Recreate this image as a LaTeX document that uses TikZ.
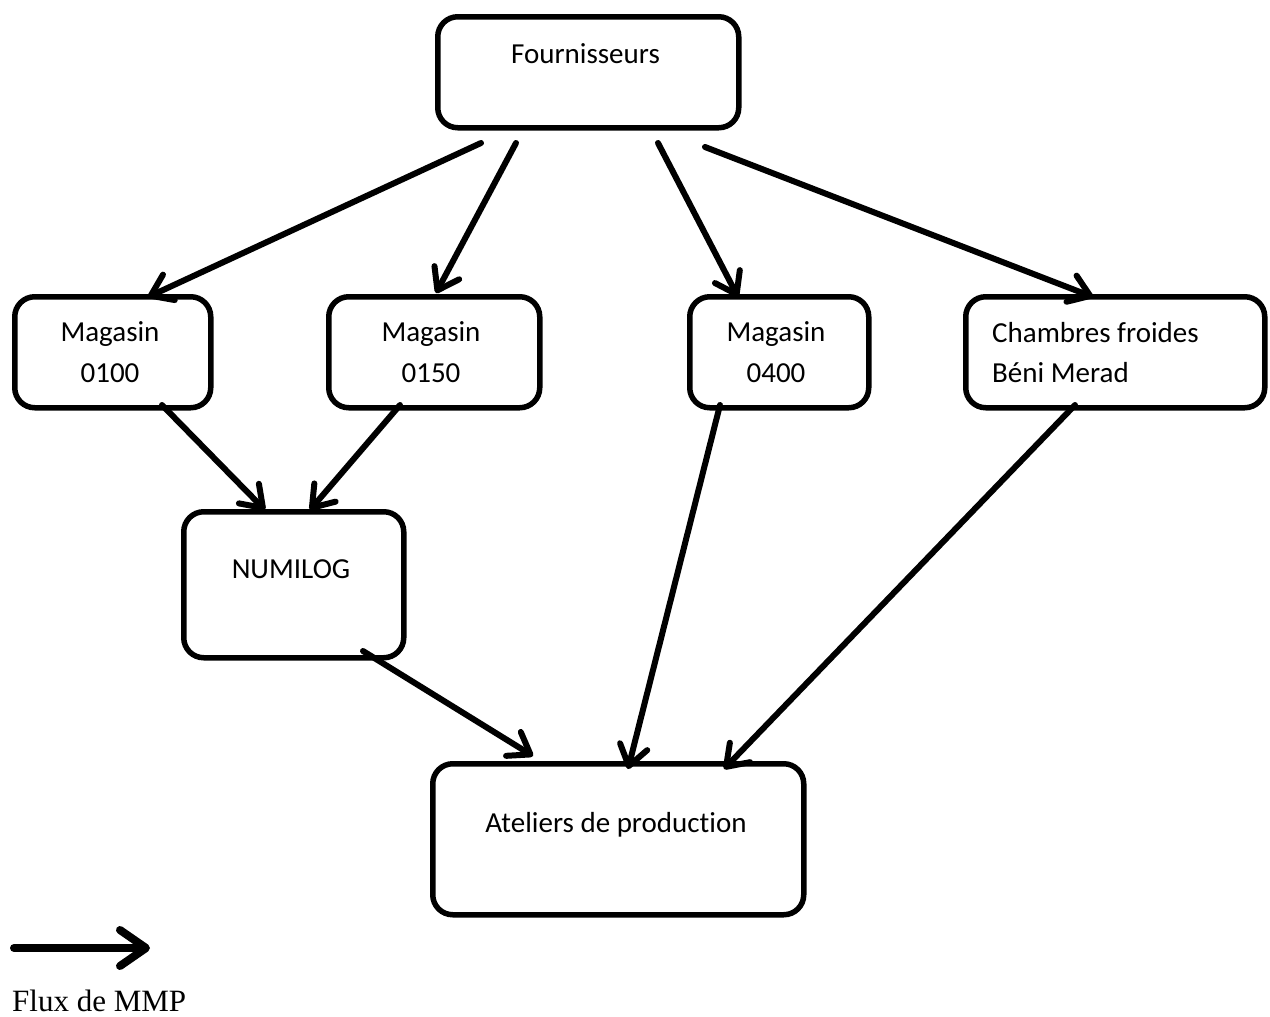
\documentclass[tikz,border=0pt]{standalone}
\usepackage{fontspec}
\setmainfont{Carlito}[Ligatures=CommonOff]
\newfontfamily\legendfont{Liberation Serif}
\usetikzlibrary{arrows.meta}
\begin{document}
\begin{tikzpicture}[x=1pt,y=-1pt,
  box/.style={draw, line width=5.5pt, rounded corners=20pt, anchor=north west, inner sep=0pt},
  txt/.style={font=\fontsize{29}{41}\selectfont, inner sep=0pt, anchor=base},
  flow/.style={line width=6pt, line cap=round,
    -{Straight Barb[length=20pt,width=28pt,line cap=round,line join=round]}}]
\useasboundingbox (0,0) rectangle (1270,1017);

% boxes
\node[box, minimum width=301pt, minimum height=111pt] (F) at (435,14) {};
\node[box, minimum width=196pt, minimum height=111pt] (M1) at (12,294) {};
\node[box, minimum width=211pt, minimum height=111pt] (M2) at (326,294) {};
\node[box, minimum width=179pt, minimum height=111pt] (M4) at (687,294) {};
\node[box, minimum width=299pt, minimum height=111pt] (CF) at (963,294) {};
\node[box, minimum width=220pt, minimum height=146pt] (N) at (181,509) {};
\node[box, minimum width=371pt, minimum height=151pt] (A) at (430,761) {};

% labels
\node[txt] (Ft) at (585.5,63) {Fournisseurs};
\node[txt] (M1a) at (110,341) {Magasin};
\node[txt] (M1b) at (110,382) {0100};
\node[txt] (M2a) at (431,341) {Magasin};
\node[txt] (M2b) at (431,382) {0150};
\node[txt] (M4a) at (776,341) {Magasin};
\node[txt] (M4b) at (776,382) {0400};
\node[txt, anchor=base west] (CFa) at (992,342) {Chambres froides};
\node[txt, anchor=base west] (CFb) at (992,382) {Béni Merad};
\node[txt] (Nt) at (291,578) {NUMILOG};
\node[txt] (At) at (616,832) {Ateliers de production};

% connector ends
\coordinate (f1) at (481,143);  \coordinate (m1in) at (148,297);
\coordinate (f2) at (516,143);  \coordinate (m2in) at (436,293);
\coordinate (f3) at (658,143);  \coordinate (m4in) at (738,297);
\coordinate (f4) at (705,147);  \coordinate (cfin) at (1093,297);
\coordinate (m1out) at (162,405); \coordinate (nin1) at (265,510);
\coordinate (m2out) at (400,405); \coordinate (nin2) at (310,510);
\coordinate (nout) at (363,651);  \coordinate (ain1) at (533,756);
\coordinate (m4out) at (720,405); \coordinate (ain2) at (628,769);
\coordinate (cfout) at (1075,405); \coordinate (ain3) at (724,769);

% flows
\draw[flow] (f1) -- (m1in);
\draw[flow] (f2) -- (m2in);
\draw[flow] (f3) -- (m4in);
\draw[flow] (f4) -- (cfin);
\draw[flow] (m1out) -- (nin1);
\draw[flow] (m2out) -- (nin2);
\draw[flow] (nout) -- (ain1);
\draw[flow] (m4out) -- (ain2);
\draw[flow] (cfout) -- (ain3);

% legend
\coordinate (lg0) at (14,948);
\coordinate (lg1) at (150,948);
\draw[line width=8pt, line cap=round,
  -{Straight Barb[length=26pt,width=36pt,line cap=round,line join=round]}] (lg0) -- (lg1);
\node[font=\legendfont\fontsize{31}{36}\selectfont, inner sep=0pt, anchor=base west] (lgt) at (12,1011) {Flux de MMP};
\end{tikzpicture}
\end{document}
